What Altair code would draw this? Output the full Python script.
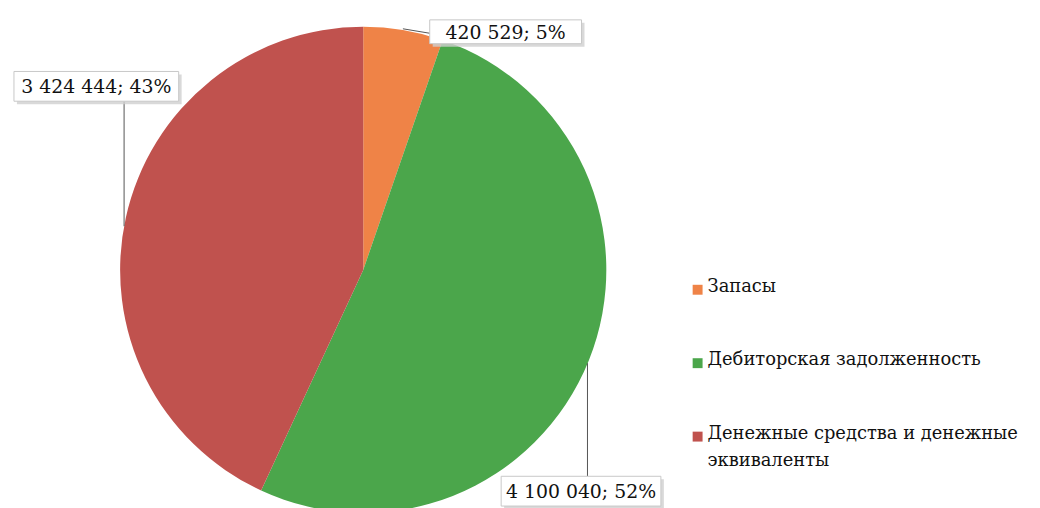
import altair as alt
import pandas as pd

categories = ["Запасы", "Дебиторская задолженность", "Денежные средства и денежные\nэквиваленты"]
values = [420529, 4100040, 3424444]
percents = ["5%", "52%", "43%"]
value_labels = ["420 529", "4 100 040", "3 424 444"]
colors = ["#ef8347", "#4ba64b", "#c0524e"]

order = list(range(len(categories)))
df = pd.DataFrame({"cat": categories, "value": values, "order": order,
                   "label": [f"{v}; {p}" for v, p in zip(value_labels, percents)]})

W, H = 1032, 500
CX, CY, R = 358, 262, 245
FONT = "DejaVu Serif"

color_scale = alt.Scale(domain=categories, range=colors)

pie = alt.Chart(df).mark_arc(outerRadius=R, stroke=None).encode(
    theta=alt.Theta("value:Q", stack=True),
    order=alt.Order("order:Q"),
    color=alt.Color("cat:N", scale=color_scale, legend=None),
    x=alt.value(CX), y=alt.value(CY),
)

# label boxes (x, y, x2, y2 in chart pixels) and leader lines, in category order
boxes = [
    (425, 10, 578, 34),
    (497, 470, 658, 500),
    (6, 62, 172, 92),
]
leaders = [
    ((398, 19), (434, 25)),
    ((584, 470), (584, 356)),
    ((117, 92), (117, 218)),
]

layers = [pie]
for i, (bx, lead) in enumerate(zip(boxes, leaders)):
    (x1, y1, x2, y2) = bx
    sub = df.iloc[[i]]
    layers.append(alt.Chart(sub).mark_rule(color="#555555", strokeWidth=1).encode(
        x=alt.value(lead[0][0]), y=alt.value(lead[0][1]),
        x2=alt.value(lead[1][0]), y2=alt.value(lead[1][1])))
    layers.append(alt.Chart(sub).mark_rect(fill="#d0d0d0", opacity=0.8).encode(
        x=alt.value(x1 + 3), x2=alt.value(x2 + 3), y=alt.value(y1 + 3), y2=alt.value(y2 + 3)))
    layers.append(alt.Chart(sub).mark_rect(fill="white", stroke="#c8c8c8", strokeWidth=1).encode(
        x=alt.value(x1), x2=alt.value(x2), y=alt.value(y1), y2=alt.value(y2)))
    layers.append(alt.Chart(sub).mark_text(font=FONT, fontSize=19, color="#111111",
                                           align="center", baseline="middle").encode(
        text="label:N", x=alt.value((x1 + x2) / 2), y=alt.value((y1 + y2) / 2 + 1)))

legend_y = alt.Y("order:Q", scale=alt.Scale(domain=[0, 2], range=[282, 430]), axis=None)
layers.append(alt.Chart(df).mark_square(size=100, opacity=1).encode(
    x=alt.value(695), y=legend_y,
    color=alt.Color("cat:N", scale=color_scale, legend=None)))
layers.append(alt.Chart(df).mark_text(font=FONT, fontSize=18, color="#111111", align="left",
                                      baseline="top", lineBreak="\n", dy=-12, lineHeight=28).encode(
    x=alt.value(705), y=legend_y, text="cat:N"))

chart = alt.layer(*layers).properties(
    width=W, height=H, padding=0, autosize=alt.AutoSizeParams(type="none")
).configure_view(stroke=None)

chart.save("out.html", embed_options={"renderer": "svg", "actions": False})
